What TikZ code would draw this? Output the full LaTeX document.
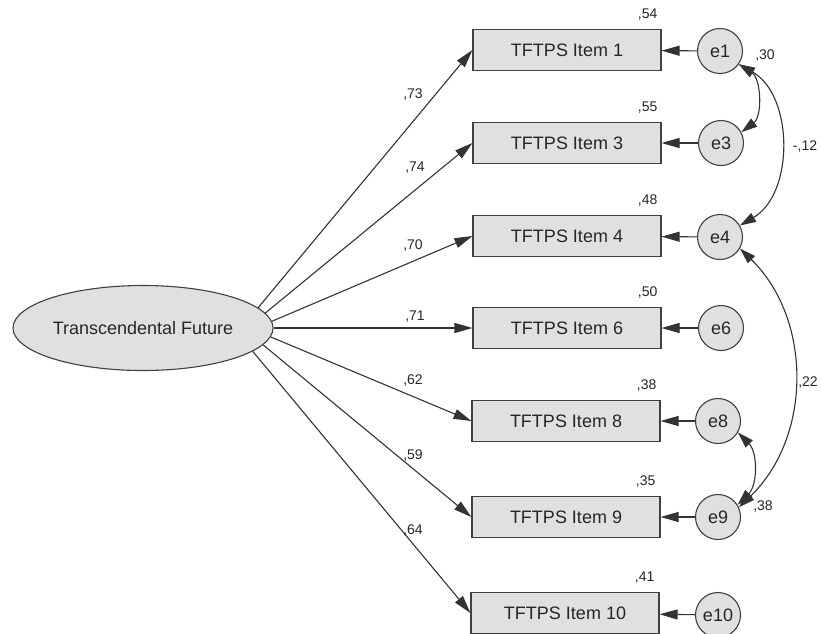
\documentclass[tikz,border=0pt]{standalone}
\usepackage{fontspec}
\setmainfont{Liberation Sans}
\usetikzlibrary{arrows.meta,shapes.geometric}

\begin{document}
\begin{tikzpicture}[x=1pt, y=1pt,
	varbox/.style={draw=black!75, line width=1.1pt, fill=black!12, minimum width=188pt, minimum height=41pt, inner sep=0pt, text=black!85, font=\fontsize{18}{20}\selectfont},
	errvar/.style={circle, draw=black!75, line width=1.1pt, fill=black!12, minimum size=45pt, inner sep=0pt, text=black!85, font=\fontsize{18}{20}\selectfont},
	latvar/.style={ellipse, draw=black!75, line width=1.1pt, fill=black!12, minimum width=260pt, minimum height=85pt, inner sep=0pt, text=black!85, font=\fontsize{18}{20}\selectfont},
	load/.style={-{Triangle[length=18pt,width=10pt]}, line width=1.1pt, draw=black!80},
	covar/.style={{Triangle[length=16pt,width=10pt]}-{Triangle[length=16pt,width=10pt]}, line width=1.1pt, draw=black!80},
	num/.style={inner sep=0pt, text=black!85, font=\fontsize{14}{15}\selectfont}]
			%%%%% START %%%%%
			\useasboundingbox (0, 0) rectangle (821, -633);
			
			\node[latvar] (tf) at (143, -328) {Transcendental Future};
			
			\node[varbox] (i1) at (567, -50) {TFTPS Item 1};
			\node[varbox] (i3) at (567, -143) {TFTPS Item 3};
			\node[varbox] (i4) at (567, -236) {TFTPS Item 4};
			\node[varbox] (i6) at (567, -328) {TFTPS Item 6};
			\node[varbox] (i8) at (566, -421) {TFTPS Item 8};
			\node[varbox] (i9) at (566, -517) {TFTPS Item 9};
			\node[varbox] (i10) at (565, -613) {TFTPS Item 10};
			
			\node[errvar] (e1) at (720, -51) {e1};
			\node[errvar] (e3) at (721, -143) {e3};
			\node[errvar] (e4) at (720, -237) {e4};
			\node[errvar] (e6) at (721, -328) {e6};
			\node[errvar] (e8) at (718, -421) {e8};
			\node[errvar] (e9) at (718, -517) {e9};
			\node[errvar] (e10) at (718, -615) {e10};
			
			% loadings
			\draw[load] (tf.10) -- (i1.west);
			\draw[load] (tf.7) -- (i3.west);
			\draw[load] (tf.3.5) -- (i4.west);
			\draw[load] (tf.0) -- (i6.west);
			\draw[load] (tf.-4) -- (i8.west);
			\draw[load] (tf.-8) -- (i9.west);
			\draw[load] (tf.-12) -- (i10.west);
			
			\node[num] (l1) at (413, -95) {,73};
			\node[num] (l3) at (415, -168) {,74};
			\node[num] (l4) at (413, -245) {,70};
			\node[num] (l6) at (415, -317) {,71};
			\node[num] (l8) at (413, -380) {,62};
			\node[num] (l9) at (413, -455) {,59};
			\node[num] (l10) at (413, -530) {,64};
			
			% errors
			\draw[load] (e1) -- (i1);
			\draw[load] (e3) -- (i3);
			\draw[load] (e4) -- (i4);
			\draw[load] (e6) -- (i6);
			\draw[load] (e8) -- (i8);
			\draw[load] (e9) -- (i9);
			\draw[load] (e10) -- (i10);
			
			% squared multiple correlations
			\node[num, anchor=south east] (r1) at ([xshift=-4pt, yshift=8pt]i1.north east) {,54};
			\node[num, anchor=south east] (r3) at ([xshift=-4pt, yshift=8pt]i3.north east) {,55};
			\node[num, anchor=south east] (r4) at ([xshift=-4pt, yshift=8pt]i4.north east) {,48};
			\node[num, anchor=south east] (r6) at ([xshift=-4pt, yshift=8pt]i6.north east) {,50};
			\node[num, anchor=south east] (r8) at ([xshift=-4pt, yshift=8pt]i8.north east) {,38};
			\node[num, anchor=south east] (r9) at ([xshift=-5pt, yshift=8pt]i9.north east) {,35};
			\node[num, anchor=south east] (r10) at ([xshift=-5pt, yshift=8pt]i10.north east) {,41};
			
			% covariances
			\draw[covar] (e1.-35) to[bend left=55] (e3.28);
			\draw[covar] (e1.-35) to[bend left=60] (e4.30);
			\draw[covar] (e4.-30) to[bend left=46] (e9.25);
			\draw[covar] (e8.-30) to[bend left=45] (e9.32);
			
			\node[num] (c13) at (765, -56) {,30};
			\node[num] (c14) at (805, -147) {-,12};
			\node[num] (c49) at (808, -382) {,22};
			\node[num] (c89) at (763, -506) {,38};
			
			%%%%% END %%%%%
\end{tikzpicture}
\end{document}
